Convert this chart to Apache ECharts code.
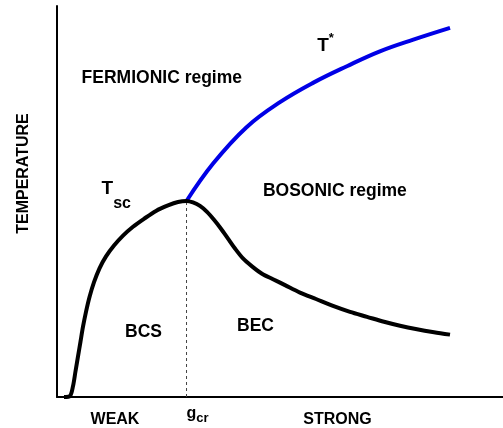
<!DOCTYPE html>
<html>
<head>
<meta charset="utf-8">
<script src="https://cdn.jsdelivr.net/npm/echarts@6/dist/echarts.min.js"></script>
<style>html,body{margin:0;padding:0;background:#fff}#c{width:503px;height:428px}</style>
</head>
<body>
<div id="c"></div>
<script>
// coupling strength (0..100 arbitrary units) and temperature (0..100 arbitrary units)
const tscX = [1.57, 2.91, 3.59, 4.15, 4.71, 5.27, 5.83, 6.50, 7.29, 8.30, 9.53, 10.99, 12.78, 14.80, 17.04, 19.51, 22.20, 24.89, 27.13, 29.04,
  30.49, 32.06, 33.63, 35.20, 36.77, 38.34, 39.91, 41.70, 43.72, 45.96, 48.43, 51.12, 54.48, 58.07, 61.88, 65.70, 69.51, 73.32, 76.91, 80.72, 84.53, 88.12];
const tscY = [0, 0.25, 2.78, 6.58, 10.38, 14.18, 17.97, 21.77, 25.57, 29.37, 32.91, 35.95, 38.73, 41.27, 43.54, 45.57, 47.59, 48.99, 49.87, 50.13,
  49.75, 48.86, 47.34, 45.32, 43.04, 40.51, 37.97, 35.44, 33.42, 31.52, 30.13, 28.61, 26.71, 25.06, 23.29, 21.77, 20.51, 19.24, 18.23, 17.34, 16.58, 15.95];
const tStarX = [29.04, 35.0, 42.5, 50.0, 57.5, 65.0, 72.4, 79.9, 88.12];
const tStarY = [50.13, 59.7, 69.0, 75.4, 80.4, 84.6, 88.4, 91.4, 94.4];
const gcr = 29.04;
const gcrPeakT = 50.13;
const xTickValues = [13.0, 31.5, 62.9];
const xTickLabels = ['WEAK', 'g_cr', 'STRONG'];
const yAxisName = 'TEMPERATURE';
const regionNames = ['FERMIONIC regime', 'BOSONIC regime', 'BCS', 'BEC', 'T*', 'Tsc'];
const regionX = [23.5, 62.3, 19.4, 44.5, 60.2, 13.3];
const regionY = [81.5, 52.6, 16.7, 18.2, 90.4, 51.6];

const FONT = 'Liberation Sans, Arial, sans-serif';
const zip = (a, b) => a.map((v, i) => [v, b[i]]);

const regionLabels = regionNames.map((n, i) => {
  let label;
  if (n === 'T*') label = '{t|T}{sup|*}';
  else if (n === 'Tsc') label = '{b|T}{sub|sc}';
  else label = '{n|' + n + '}';
  return { value: [regionX[i], regionY[i]], label: { formatter: label } };
});

const chart = echarts.init(document.getElementById('c'), null, { renderer: 'canvas' });
chart.setOption({
  animation: false,
  backgroundColor: '#fff',
  grid: { left: 57, right: 0, top: 6, bottom: 27, containLabel: false },
  xAxis: {
    type: 'value', min: 0, max: 100,
    axisLine: { show: true, onZero: false, lineStyle: { color: '#000', width: 2 } },
    axisTick: { show: false },
    splitLine: { show: false },
    axisLabel: {
      show: true,
      customValues: xTickValues,
      margin: 9,
      color: '#000',
      formatter: function (v) {
        const i = xTickValues.indexOf(v);
        const t = xTickLabels[i];
        if (t === 'g_cr') return '{g|g}{s|cr}';
        return '{n|' + t + '}';
      },
      rich: {
        n: { fontFamily: FONT, fontWeight: 'bold', fontSize: 16, color: '#000', lineHeight: 22, verticalAlign: 'bottom' },
        g: { fontFamily: FONT, fontWeight: 'bold', fontSize: 16, color: '#000', lineHeight: 19, verticalAlign: 'top' },
        s: { fontFamily: FONT, fontWeight: 'bold', fontSize: 13, color: '#000', lineHeight: 19, verticalAlign: 'bottom' }
      }
    }
  },
  yAxis: {
    type: 'value', min: 0, max: 100,
    axisLine: { show: true, onZero: false, lineStyle: { color: '#000', width: 2 } },
    axisTick: { show: false },
    splitLine: { show: false },
    axisLabel: { show: false },
    name: yAxisName,
    nameLocation: 'middle',
    nameRotate: 90,
    nameGap: 25,
    nameTextStyle: { fontFamily: FONT, fontWeight: 'bold', fontSize: 16, color: '#000', padding: [0, 0, 0, 56] }
  },
  series: [
    {
      type: 'line', data: zip(tscX, tscY), showSymbol: false, smooth: 0.3,
      lineStyle: { color: '#000', width: 4 }, z: 3
    },
    {
      type: 'line', data: zip(tStarX, tStarY), showSymbol: false, smooth: 0.4,
      lineStyle: { color: '#0000e6', width: 4 }, z: 2
    },
    {
      type: 'line', data: [[gcr, 0], [gcr, gcrPeakT]], showSymbol: false,
      lineStyle: { color: '#444', width: 1, type: [3, 3] }, z: 1
    },
    {
      type: 'scatter', data: regionLabels, symbolSize: 0, silent: true,
      itemStyle: { opacity: 1 },
      label: {
        show: true, position: 'inside', color: '#000', textBorderWidth: 0, opacity: 1,
        rich: {
          n: { fontFamily: FONT, fontWeight: 'bold', fontSize: 17.5, color: '#000' },
          t: { fontFamily: FONT, fontWeight: 'bold', fontSize: 19, color: '#000', lineHeight: 24, verticalAlign: 'bottom' },
          b: { fontFamily: FONT, fontWeight: 'bold', fontSize: 19, color: '#000', lineHeight: 32, verticalAlign: 'top' },
          sub: { fontFamily: FONT, fontWeight: 'bold', fontSize: 16, color: '#000', lineHeight: 32, verticalAlign: 'bottom' },
          sup: { fontFamily: FONT, fontWeight: 'bold', fontSize: 13, color: '#000', lineHeight: 24, verticalAlign: 'top' }
        }
      }
    }
  ]
});
</script>
</body>
</html>
